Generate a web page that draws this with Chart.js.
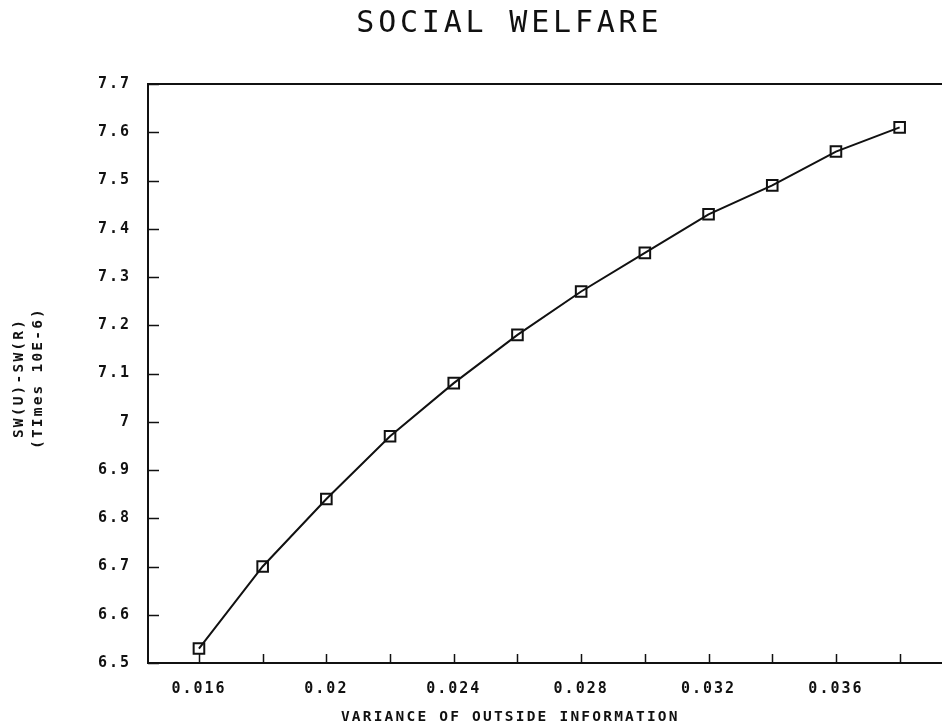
<!DOCTYPE html>
<html>
<head>
<meta charset="utf-8">
<script src="https://cdn.jsdelivr.net/npm/chart.js@4/dist/chart.umd.min.js"></script>
<style>
  html, body { margin: 0; padding: 0; background: #fff; }
  #wrap { width: 942px; height: 727px; }
</style>
</head>
<body>
<div id="wrap"><canvas id="c" width="942" height="727"></canvas></div>
<script>
// Variance of outside information (x) and social welfare difference (y, times 10E-6)
const variance = [0.016, 0.018, 0.020, 0.022, 0.024, 0.026, 0.028, 0.030, 0.032, 0.034, 0.036, 0.038];
const swDiff   = [6.53, 6.70, 6.84, 6.97, 7.08, 7.18, 7.27, 7.35, 7.43, 7.49, 7.56, 7.61];

const chartTitle = 'SOCIAL WELFARE';
const xTitle = 'VARIANCE OF OUTSIDE INFORMATION';
const yTitle = ['SW(U)-SW(R)', '(TImes 10E-6)'];

const FONT = '"DejaVu Sans Mono", "Liberation Mono", monospace';
const INK = '#111';

// Inward tick marks, top frame line and the centred titles
const framePlugin = {
  id: 'frame',
  beforeDraw(chart) {
    chart.ctx.letterSpacing = '2px';
  },
  afterDraw(chart) {
    const { ctx, chartArea: a, scales } = chart;
    ctx.save();
    ctx.strokeStyle = INK;
    ctx.lineWidth = 2;
    ctx.beginPath();
    ctx.moveTo(a.left, a.top);
    ctx.lineTo(a.right, a.top);
    ctx.stroke();

    ctx.lineWidth = 1.5;
    ctx.beginPath();
    scales.y.ticks.forEach(t => {
      const y = Math.round(scales.y.getPixelForValue(t.value)) + 0.5;
      ctx.moveTo(a.left, y);
      ctx.lineTo(a.left + 11, y);
    });
    scales.x.ticks.forEach(t => {
      const x = Math.round(scales.x.getPixelForValue(t.value)) + 0.5;
      ctx.moveTo(x, a.bottom);
      ctx.lineTo(x, a.bottom - 9);
    });
    ctx.stroke();

    ctx.fillStyle = INK;
    ctx.textAlign = 'center';
    ctx.textBaseline = 'middle';
    const cx = a.left + (a.right - a.left) * 0.45;

    ctx.letterSpacing = '3.8px';
    ctx.font = '30px ' + FONT;
    ctx.fillText(chartTitle, cx + 4, 24);

    ctx.letterSpacing = '2.2px';
    ctx.font = 'bold 14.5px ' + FONT;
    ctx.fillText(xTitle, cx + 5, 717);

    ctx.translate(0, 378);
    ctx.rotate(-Math.PI / 2);
    ctx.letterSpacing = '2.2px';
    ctx.font = 'bold 14.5px ' + FONT;
    ctx.fillText(yTitle[0], 0, 19);
    ctx.fillText(yTitle[1], 0, 38);
    ctx.restore();
  }
};

new Chart(document.getElementById('c'), {
  type: 'scatter',
  data: {
    datasets: [{
      data: variance.map((v, i) => ({ x: v, y: swDiff[i] })),
      showLine: true,
      borderColor: INK,
      borderWidth: 2,
      pointStyle: 'rect',
      pointRadius: 7.5,
      pointHoverRadius: 7.5,
      pointBorderWidth: 2,
      pointBorderColor: INK,
      pointBackgroundColor: 'rgba(255,255,255,0)',
      tension: 0
    }]
  },
  options: {
    responsive: false,
    animation: false,
    devicePixelRatio: 1,
    layout: { autoPadding: false, padding: { top: 84, right: 0, left: 0, bottom: 0 } },
    plugins: { legend: { display: false }, tooltip: { enabled: false }, title: { display: false } },
    scales: {
      x: {
        type: 'linear',
        min: 0.0144,
        max: 0.03933,
        grid: { display: false },
        border: { display: true, color: INK, width: 2 },
        afterFit(scale) {
          scale.height = 64;
          scale.paddingLeft = 0;
          scale.paddingRight = 0;
        },
        ticks: {
          stepSize: 0.002,
          includeBounds: false,
          autoSkip: false,
          maxRotation: 0,
          padding: 9,
          color: INK,
          font: { family: FONT, size: 15, weight: 'bold' },
          callback(v) {
            const m = Math.round(v * 1000);
            return m % 4 === 0 ? String(+(m / 1000).toFixed(3)) : '';
          }
        }
      },
      y: {
        type: 'linear',
        min: 6.5,
        max: 7.7,
        grid: { display: false },
        border: { display: true, color: INK, width: 2 },
        afterFit(scale) { scale.width = 148; },
        ticks: {
          stepSize: 0.1,
          padding: 9,
          color: INK,
          font: { family: FONT, size: 15, weight: 'bold' },
          callback(v) { return String(+v.toFixed(1)); }
        }
      }
    }
  },
  plugins: [framePlugin]
});
</script>
</body>
</html>
